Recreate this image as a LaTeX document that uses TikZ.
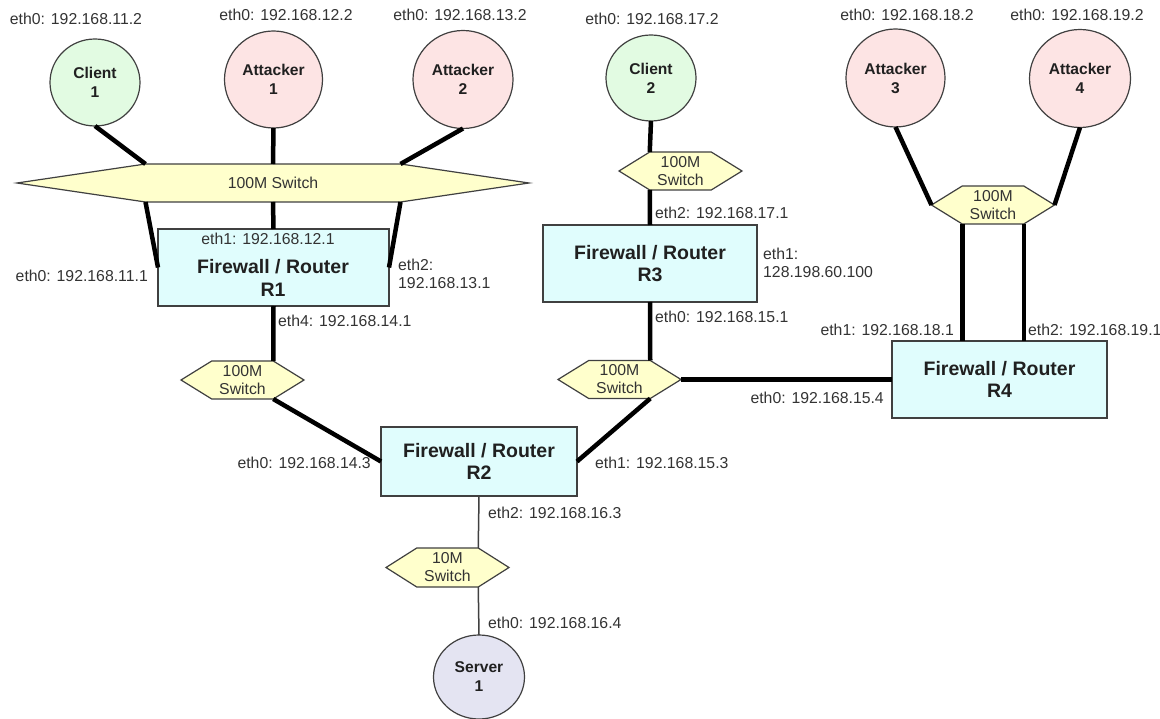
\documentclass[tikz,border=0pt]{standalone}
\usepackage{fontspec}
\setmainfont{Liberation Sans}
\usetikzlibrary{shapes.geometric}
\pgfdeclarelayer{background}
\pgfsetlayers{background,main}

\definecolor{clientfill}{HTML}{E2FBE2}
\definecolor{attackfill}{HTML}{FDE4E4}
\definecolor{serverfill}{HTML}{E4E4F2}
\definecolor{routerfill}{HTML}{E0FDFD}
\definecolor{switchfill}{HTML}{FFFFCC}
\definecolor{edgegray}{HTML}{404040}
\definecolor{labelgray}{HTML}{333333}
\definecolor{textdark}{HTML}{202020}

\begin{document}
\begin{tikzpicture}[x=1pt,y=-1pt,
  lbl/.style={text=labelgray, font=\fontsize{15.8}{18}\selectfont, inner sep=0pt, align=left},
  host/.style={ellipse, draw=edgegray, line width=1.2pt, inner sep=0pt, outer sep=0pt,
               align=center, text=textdark, font=\bfseries\fontsize{15.6}{19}\selectfont},
  client/.style={host, fill=clientfill},
  attacker/.style={host, fill=attackfill},
  server/.style={host, fill=serverfill},
  router/.style={rectangle, draw=edgegray, fill=routerfill, line width=1.2pt, inner sep=0pt,
                 outer sep=0pt, align=center, text=textdark,
                 font=\bfseries\fontsize{19.5}{22.5}\selectfont},
  rname/.style={inner sep=0pt, align=center, text=textdark, font=\bfseries\fontsize{19.5}{22.5}\selectfont},
  hexsw/.style={rectangle, inner sep=0pt, outer sep=0pt, minimum width=61.5pt, minimum height=38pt,
                align=center, text=labelgray, font=\fontsize{15.8}{18}\selectfont},
  hexshape/.style={fill=switchfill, draw=edgegray, line width=1.2pt, line join=miter},
  link/.style={line width=4.5pt, draw=black},
  thinlink/.style={line width=1.5pt, draw=edgegray}
]
\useasboundingbox (0,0) rectangle (1160,719);

% ---- hosts ----
\node[client,   minimum width=90pt,  minimum height=87pt] (c1) at (95,82.5)   {Client\\1};
\node[attacker, minimum width=98pt,  minimum height=97pt] (a1) at (273.5,79.5) {Attacker\\1};
\node[attacker, minimum width=100pt, minimum height=98pt] (a2) at (463,79.5)   {Attacker\\2};
\node[client,   minimum width=90pt,  minimum height=86pt] (c2) at (651,78)     {Client\\2};
\node[attacker, minimum width=99pt,  minimum height=98pt] (a3) at (895.5,78)   {Attacker\\3};
\node[attacker, minimum width=101pt, minimum height=98pt] (a4) at (1080,78.5)  {Attacker\\4};
\node[server,   minimum width=91pt,  minimum height=84pt] (s1) at (479,677)    {Server\\1};

% ---- routers ----
\node[router, minimum width=231pt, minimum height=77pt] (R1) at (273.5,267.5) {};
\node[rname] (R1name) at (273,278) {Firewall / Router\\R1};
\node[router, minimum width=196pt, minimum height=69pt] (R2) at (479,461.5) {Firewall / Router\\R2};
\node[router, minimum width=214pt, minimum height=77pt] (R3) at (650,263.5) {Firewall / Router\\R3};
\node[router, minimum width=215pt, minimum height=77pt] (R4) at (999.5,379.5) {Firewall / Router\\R4};

% ---- switches (node = top edge of the hexagon) ----
\node[hexsw, minimum width=255pt] (bs) at (273,183) {100M Switch};
\node[hexsw] (swA) at (242.5,380)   {100M\\Switch};
\node[hexsw] (swB) at (619.5,379.5) {100M\\Switch};
\node[hexsw] (swC) at (680.5,171)   {100M\\Switch};
\node[hexsw] (swD) at (993,205)     {100M\\Switch};
\node[hexsw, minimum height=39pt] (swE) at (447.5,567.5) {10M\\Switch};

\begin{pgfonlayer}{background}
  \fill[white] (0,0) rectangle (1160,719);
  \foreach \s/\t in {bs/128.5, swA/30.75, swB/30.75, swC/30.75, swD/30.75, swE/30.75}{
    \path[hexshape] (\s.north west) -- (\s.north east) -- ([xshift=\t]\s.east)
      -- (\s.south east) -- (\s.south west) -- ([xshift=-\t]\s.west) -- cycle;
    \coordinate (\s-e) at ([xshift=\t]\s.east);
    \coordinate (\s-w) at ([xshift=-\t]\s.west);
  }
\end{pgfonlayer}

% ---- links ----
\draw[link] (c1.south) -- (bs.north west);
\draw[link] (a1.south) -- (bs.north);
\draw[link] (a2.south) -- (bs.north east);
\draw[link] (bs.south west) -- (R1.west);
\draw[link] (bs.south) -- (R1.north);
\draw[link] (bs.south east) -- (R1.east);
\draw[link] (R1.south) -- (swA.north east);
\draw[link] (swA.south east) -- (R2.west);
\draw[link] (R2.east) -- (swB.south east);
\draw[link] (swB.north east) -- (R3.south);
\draw[link] (swB-e) -- (R4.west);
\draw[link] (R3.north) -- (swC.south west);
\draw[link] (c2.south) -- (swC.north west);
\draw[link] (a3.south) -- (swD-w);
\draw[link] (a4.south) -- (swD-e);
\draw[link] (swD.south west) -- (swD.south west |- R4.north);
\draw[link] (swD.south east) -- (swD.south east |- R4.north);
\draw[thinlink] (R2.south) -- (swE.north east);
\draw[thinlink] (swE.south east) -- (s1.north);

% ---- interface labels ----
\node[lbl] (l1)  at (76,19)    {eth0: 192.168.11.2};
\node[lbl] (l2)  at (286,15)   {eth0: 192.168.12.2};
\node[lbl] (l3)  at (460,15)   {eth0: 192.168.13.2};
\node[lbl] (l4)  at (652,19)   {eth0: 192.168.17.2};
\node[lbl] (l5)  at (907,15)   {eth0: 192.168.18.2};
\node[lbl] (l6)  at (1077,15)  {eth0: 192.168.19.2};
\node[lbl] (l7)  at (268,239)  {eth1: 192.168.12.1};
\node[lbl, anchor=east] (l8) at (148,276) {eth0: 192.168.11.1};
\node[lbl, anchor=west] (l9) at (398,274) {eth2:\\192.168.13.1};
\node[lbl, anchor=west] (l10) at (278,321) {eth4: 192.168.14.1};
\node[lbl, anchor=east] (l11) at (371,463) {eth0: 192.168.14.3};
\node[lbl, anchor=west] (l12) at (595,463) {eth1: 192.168.15.3};
\node[lbl, anchor=west] (l13) at (488,513) {eth2: 192.168.16.3};
\node[lbl, anchor=west] (l14) at (488,623) {eth0: 192.168.16.4};
\node[lbl, anchor=west] (l15) at (655,213) {eth2: 192.168.17.1};
\node[lbl, anchor=west] (l16) at (655,317) {eth0: 192.168.15.1};
\node[lbl, anchor=west] (l17) at (763,263) {eth1:\\128.198.60.100};
\node[lbl, anchor=east] (l18) at (884,398) {eth0: 192.168.15.4};
\node[lbl, anchor=east] (l19) at (954,330) {eth1: 192.168.18.1};
\node[lbl, anchor=west] (l20) at (1028,330) {eth2: 192.168.19.1};
\end{tikzpicture}
\end{document}
